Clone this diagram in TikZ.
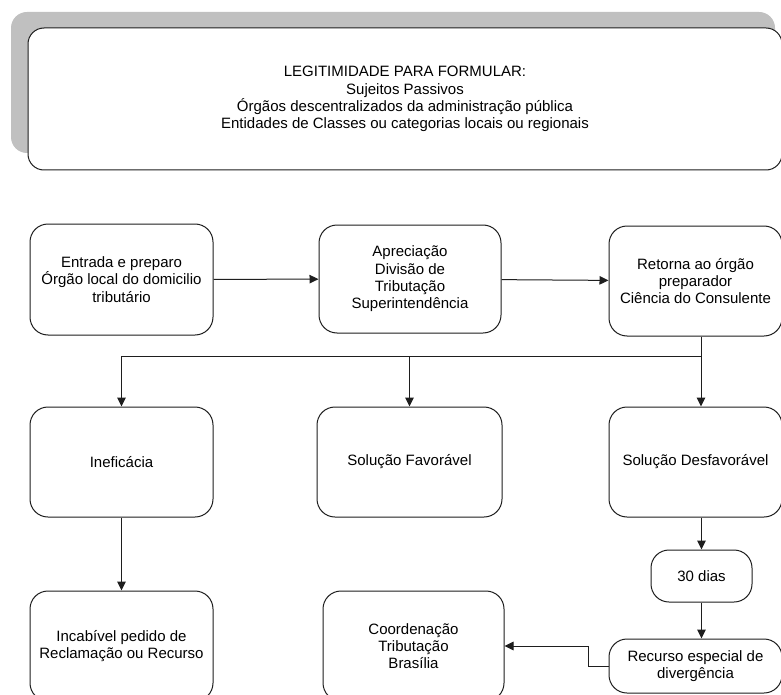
\documentclass[tikz,border=0pt]{standalone}
\usepackage{fontspec}
\setmainfont{Liberation Sans}
\usepackage{xcolor}
\usetikzlibrary{arrows.meta}
\definecolor{shadowgray}{HTML}{C0C0C0}
\definecolor{boxborder}{HTML}{1E1E1E}
\tikzset{
  flowbox/.style={draw=boxborder, fill=white, rounded corners=18pt, line width=1pt,
                  align=center, inner sep=2pt, font=\fontsize{15}{17.3}\selectfont},
  flowline/.style={draw=boxborder, line width=1pt},
  flowarrow/.style={flowline, -{Triangle[length=9pt,width=8.5pt]}}
}

\begin{document}
\begin{tikzpicture}[x=1pt,y=-1pt]
  \clip (0,0) rectangle (781,695);
  \fill[white] (0,0) rectangle (781,695);
  % top panel with its gray shadow
  \fill[shadowgray, rounded corners=16pt] (11,12) rectangle (775,153);
  \node[flowbox, rounded corners=16pt, minimum width=754pt, minimum height=142pt] (legitimidade) at (405,99) {%
    LEGITIMIDADE PARA FORMULAR:\\
    Sujeitos Passivos\\
    Órgãos descentralizados da administração pública\\
    Entidades de Classes ou categorias locais ou regionais};

  % first row
  \node[flowbox, minimum width=183pt, minimum height=111pt] (entrada) at (121.5,279.5)
    {Entrada e preparo\\Órgão local do domicilio\\tributário};
  \node[flowbox, minimum width=182pt, minimum height=108pt] (apreciacao) at (410,279)
    {Apreciação\\Divisão de\\Tributação\\Superintendência};
  \node[flowbox, minimum width=173pt, minimum height=110pt] (retorna) at (695.5,281)
    {Retorna ao órgão\\preparador\\Ciência do Consulente};

  % second row
  \node[flowbox, minimum width=183pt, minimum height=110pt] (ineficacia) at (121.5,462) {Ineficácia};
  \node[flowbox, minimum width=185pt, minimum height=110pt] (favoravel) at (409.5,462) {Solução Favorável};
  \node[flowbox, minimum width=173pt, minimum height=110pt] (desfavoravel) at (695.5,462) {Solução Desfavorável};

  % lower part
  \node[flowbox, minimum width=101pt, minimum height=52pt] (prazo) at (701.5,576) {30 dias};
  \node[flowbox, minimum width=173pt, minimum height=54pt] (recurso) at (695.5,666)
    {Recurso especial de\\divergência};
  \node[flowbox, minimum width=183pt, minimum height=110pt] (incabivel) at (121.5,646)
    {Incabível pedido de\\Reclamação ou Recurso};
  \node[flowbox, minimum width=181pt, minimum height=110pt] (coordenacao) at (413.5,646)
    {Coordenação\\Tributação\\Brasília};

  % connectors
  \draw[flowarrow] (entrada) -- (apreciacao);
  \draw[flowarrow] (apreciacao) -- (retorna);
  \coordinate (split) at (701,356);
  \draw[flowline] (retorna.south -| split) -- (split) -- (split -| ineficacia);
  \draw[flowarrow] (split) -- (desfavoravel.north -| split);
  \draw[flowarrow] (split -| favoravel) -- (favoravel.north);
  \draw[flowarrow] (split -| ineficacia) -- (ineficacia.north);
  \draw[flowarrow] (ineficacia) -- (incabivel);
  \draw[flowarrow] (desfavoravel.south -| prazo) -- (prazo);
  \draw[flowarrow] (prazo) -- (recurso.north -| prazo);
  \draw[flowarrow] (recurso.west) -- ++(-20,0) |- (coordenacao.east);
\end{tikzpicture}
\end{document}
